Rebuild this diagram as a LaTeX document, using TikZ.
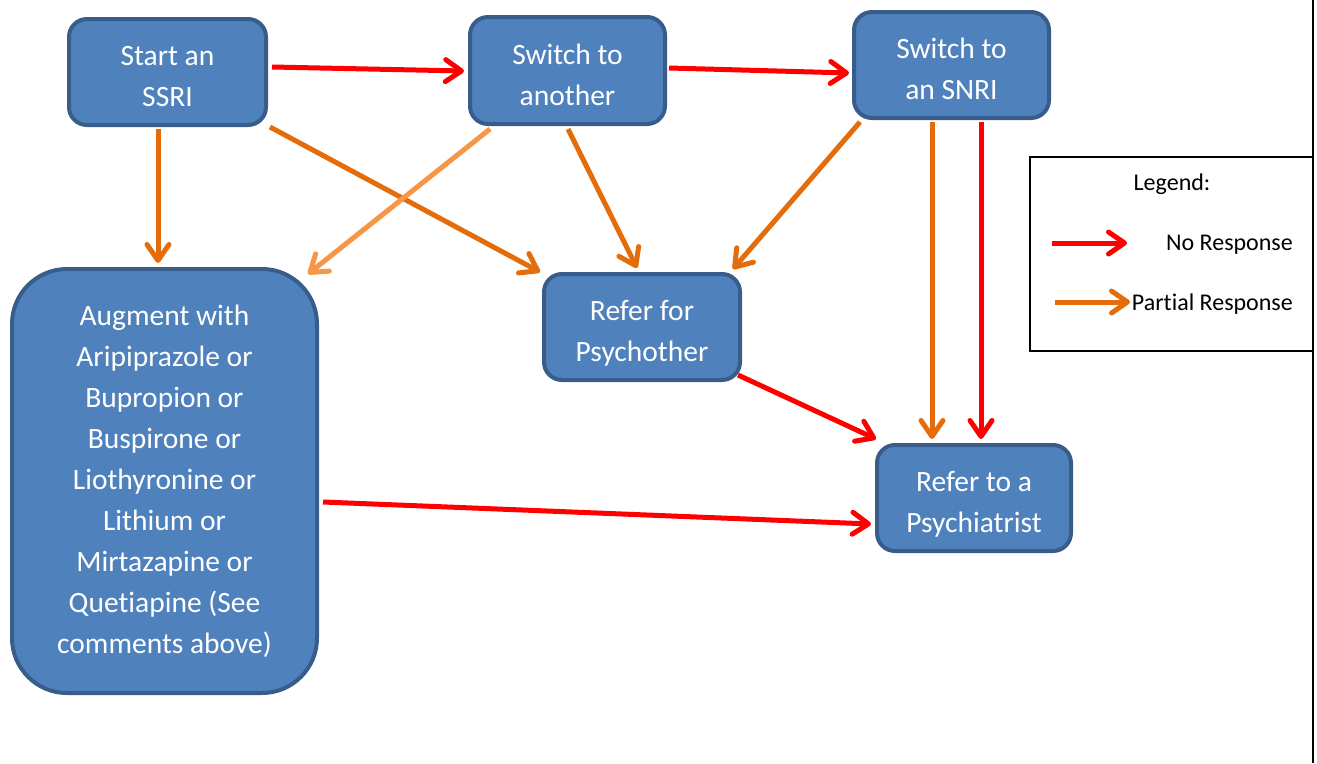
\documentclass[tikz,border=0pt]{standalone}
\usepackage{fontspec}
\setmainfont{Carlito}[Ligatures=NoCommon]
\usetikzlibrary{arrows.meta,calc}
\definecolor{boxfill}{HTML}{4F81BD}
\definecolor{boxline}{HTML}{385D8A}
\definecolor{nored}{HTML}{FF0000}
\definecolor{partor}{HTML}{E46C0A}
\definecolor{lightor}{HTML}{F79646}
\newcommand{\toprule}[1]{\rule{0pt}{#1}}
\newcommand{\botrule}[1]{\rule[-#1]{0pt}{0pt}}
\tikzset{
  flowbox/.style={draw=boxline, fill=boxfill, line width=4pt, rounded corners=18pt,
    text=white, align=center, inner sep=0pt,
    font=\fontsize{29.5}{41}\selectfont},
  arrowtip/.style={-{Straight Barb[length=16pt,width=22pt,round]}},
  noresp/.style={arrowtip, draw=nored, line width=5pt},
  partresp/.style={arrowtip, draw=partor, line width=5pt},
  partlight/.style={arrowtip, draw=lightor, line width=5pt},
  legtext/.style={font=\fontsize{24}{28}\selectfont, inner sep=0pt, text=black},
}
\begin{document}
\begin{tikzpicture}[x=1pt,y=-1pt]
\useasboundingbox (0,0) rectangle (1317,763);
\fill[white] (0,0) rectangle (1317,763);

\node[flowbox, minimum width=197pt, minimum height=106pt] (ssri) at (167.5,72)
  {\toprule{34.5pt}Start an\\SSRI\botrule{6.5pt}};
\node[flowbox, minimum width=195pt, minimum height=107pt] (another) at (567.5,70.5)
  {\toprule{34.5pt}Switch to\\another\botrule{6.5pt}};
\node[flowbox, minimum width=195pt, minimum height=106pt] (snri) at (951.5,65)
  {\toprule{34.5pt}Switch to\\an SNRI\botrule{6.5pt}};
\node[flowbox, minimum width=305pt, minimum height=424pt, rounded corners=55pt] (aug) at (164.5,481)
  {\toprule{35pt}Augment with\\Aripiprazole or\\Bupropion or\\Buspirone or\\Liothyronine or\\Lithium or\\Mirtazapine or\\Quetiapine (See\\comments above)\botrule{19pt}};
\node[flowbox, minimum width=196pt, minimum height=106pt] (psycho) at (642,327)
  {\toprule{34.5pt}Refer for\\Psychother\botrule{6.5pt}};
\node[flowbox, minimum width=194pt, minimum height=106pt] (psych) at (974,498)
  {\toprule{34pt}Refer to a\\Psychiatrist\botrule{7pt}};

% red: no response
\draw[noresp] ($(ssri.east)+(4,-5)$) -- ($(another.west)+(-4,0.5)$);
\draw[noresp] ($(another.east)+(2,-2.5)$) -- ($(snri.west)+(-3,8)$);
\draw[noresp] ($(snri.south)+(29.5,2)$) -- ($(psych.north)+(7,-4)$);
\draw[noresp] ($(psycho.south east)+(-4,-7)$) -- ($(psych.north west)+(1,-4)$);
\draw[noresp] ($(aug.east)+(4,21)$) -- ($(psych.west)+(-4,26)$);

% orange: partial response
\draw[partresp] ($(ssri.south)+(-9.5,2)$) -- ($(aug.north)+(-6.5,-4)$);
\draw[partresp] ($(ssri.south east)+(2,0)$) -- ($(psycho.north west)+(-2,0)$);
\draw[partresp] ($(another.south)+(0.5,3)$) -- ($(psycho.north)+(-5,-4)$);
\draw[partresp] ($(snri.south west)+(8,2)$) -- ($(psycho.north east)+(-9,-3)$);
\draw[partresp] ($(snri.south)+(-19.5,2)$) -- ($(psych.north)+(-42,-4)$);
\draw[partlight] ($(another.south west)+(22,3)$) -- ($(aug.north east)+(-11,7)$);

% legend
\node[draw=black, line width=2pt, minimum width=283pt, minimum height=194pt, inner sep=0pt] (legend) at (1171,253.5) {};
\node[legtext] (legtitle) at (1172,184) {Legend:};
\node[legtext, anchor=east] (nolabel) at (1293,245) {No Response};
\node[legtext, anchor=east] (partlabel) at (1293,304) {Partial Response};
\coordinate (noA) at (1052,243);
\coordinate (noB) at (1127,243);
\coordinate (paA) at (1055,302);
\coordinate (paB) at (1130,302);
\draw[noresp] (noA) -- (noB);
\draw[partresp] (paA) -- (paB);

% right edge line
\coordinate (edgetop) at (1313,0);
\coordinate (edgebot) at (1313,763);
\draw[line width=2pt] (edgetop) -- (edgebot);
\end{tikzpicture}
\end{document}
